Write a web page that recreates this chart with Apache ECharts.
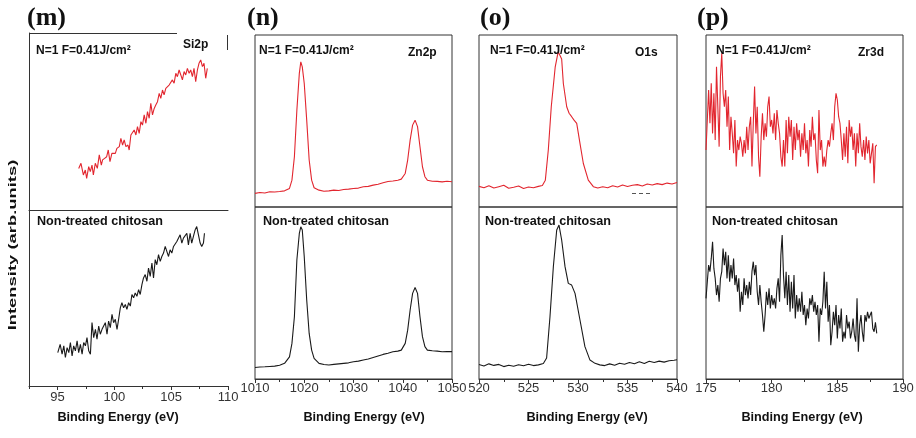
<!DOCTYPE html>
<html>
<head>
<meta charset="utf-8">
<script src="https://cdn.jsdelivr.net/npm/echarts@6/dist/echarts.min.js"></script>
<style>
html, body { margin: 0; padding: 0; background: #fff; }
#chart { width: 916px; height: 438px; }
</style>
</head>
<body>
<div id="chart"></div>
<script>
// XPS spectra, laser treated (N=1 F=0.41J/cm2) vs non-treated chitosan
// intensities are arbitrary: 0..100 inside each half panel

// (m) Si2p
const si2pTreated = [[96.87,23.5],[97.07,26.4],[97.28,19.8],[97.45,22.6],[97.57,17.9],[97.75,24.5],[97.89,21.7],[98.04,25.4],[98.16,19.8],[98.33,26.4],[98.51,23.5],[98.68,31.1],[98.86,25.4],[98.97,28.3],[99.15,29.2],[99.33,30.1],[99.47,33.9],[99.62,27.3],[99.79,32.0],[99.94,33.0],[100.09,32.0],[100.23,34.8],[100.44,35.8],[100.58,40.5],[100.73,36.7],[100.87,39.6],[101.02,35.8],[101.2,36.7],[101.31,33.9],[101.46,42.4],[101.61,43.3],[101.75,45.2],[101.9,42.4],[102.04,47.1],[102.19,43.3],[102.34,49.9],[102.48,48.0],[102.63,53.7],[102.78,49.0],[102.92,55.6],[103.07,51.8],[103.21,60.3],[103.36,53.7],[103.51,57.4],[103.65,59.3],[103.8,61.2],[103.95,65.9],[104.09,63.1],[104.24,67.8],[104.38,65.0],[104.53,68.7],[104.68,67.8],[104.82,70.6],[104.97,69.7],[105.11,73.5],[105.26,71.6],[105.41,77.2],[105.55,75.3],[105.7,79.1],[105.85,76.3],[105.99,73.5],[106.14,78.2],[106.28,76.3],[106.43,80.0],[106.58,77.2],[106.72,79.1],[106.87,75.3],[107.01,80.0],[107.16,72.5],[107.31,79.1],[107.45,82.9],[107.6,84.8],[107.75,81.0],[107.89,82.9],[108.04,74.4],[108.18,80.0]];
const si2pRaw = [[95.03,19.0],[95.24,23.7],[95.41,18.1],[95.56,22.8],[95.7,16.2],[95.85,21.8],[96.0,19.0],[96.14,24.7],[96.29,17.1],[96.43,22.8],[96.58,20.0],[96.73,25.6],[96.87,19.0],[97.02,23.7],[97.17,18.1],[97.31,24.7],[97.46,22.8],[97.6,27.5],[97.75,20.0],[97.9,18.1],[98.04,36.0],[98.19,27.5],[98.34,32.2],[98.48,26.6],[98.63,34.1],[98.77,29.4],[98.92,32.2],[99.07,31.3],[99.21,36.0],[99.36,29.4],[99.5,36.9],[99.65,33.2],[99.8,40.7],[99.94,36.0],[100.09,37.9],[100.24,32.2],[100.38,37.9],[100.53,44.4],[100.67,47.3],[100.82,44.4],[100.97,46.3],[101.11,43.5],[101.26,47.3],[101.41,45.4],[101.55,52.0],[101.7,50.1],[101.84,52.9],[101.99,51.0],[102.14,54.8],[102.28,52.0],[102.43,57.6],[102.57,61.4],[102.72,63.3],[102.87,59.5],[103.01,67.0],[103.16,62.3],[103.31,69.9],[103.45,61.4],[103.6,71.8],[103.74,68.9],[103.89,74.6],[104.04,70.8],[104.18,73.6],[104.33,75.5],[104.48,79.3],[104.62,76.5],[104.77,73.6],[104.91,77.4],[105.06,75.5],[105.21,79.3],[105.35,78.3],[105.5,82.1],[105.65,81.2],[105.79,85.9],[105.94,81.2],[106.08,84.0],[106.23,83.1],[106.38,86.8],[106.52,80.2],[106.67,86.8],[106.81,81.2],[106.96,85.0],[107.11,88.7],[107.25,90.6],[107.4,85.9],[107.55,81.2],[107.69,79.3],[107.84,81.2],[107.93,86.8]];

// (n) Zn2p
const zn2pTreated = [[1010,7.9],[1011,8.4],[1012,8.1],[1013,8.9],[1014,8.7],[1015,9.0],[1016,9.4],[1017,10.8],[1017.5,15.6],[1018,29.2],[1018.5,56.3],[1019,77.7],[1019.3,84.4],[1019.6,81.5],[1020,71.8],[1020.5,50.5],[1021,27.3],[1021.5,15.6],[1022,11.2],[1023,9.8],[1024,9.2],[1025,9.4],[1026,9.8],[1027,9.6],[1028,10.2],[1029,10.4],[1030,10.8],[1031,11.0],[1032,11.8],[1033,12.0],[1034,12.7],[1035,13.2],[1036,14.1],[1037,14.8],[1038,15.1],[1039,15.6],[1039.7,16.2],[1040.5,19.5],[1041,27.3],[1041.5,38.9],[1042,47.6],[1042.5,50.5],[1043,46.7],[1043.5,35.0],[1044,23.4],[1044.5,17.6],[1045,15.6],[1046,15.0],[1047,14.9],[1048,14.6],[1049,15.0],[1050,14.7]];
const zn2pRaw = [[1010,6.7],[1011,7.0],[1012,7.1],[1013,7.3],[1014,7.5],[1015,8.0],[1016,9.1],[1017,12.9],[1017.5,20.7],[1018,36.2],[1018.5,69.2],[1019,84.6],[1019.3,88.5],[1019.6,86.6],[1020,71.1],[1020.5,45.9],[1021,26.5],[1021.5,16.8],[1022,12.0],[1023,9.1],[1024,8.4],[1025,8.1],[1026,8.5],[1027,8.8],[1028,9.1],[1029,9.4],[1030,10.0],[1031,10.4],[1032,11.0],[1033,11.6],[1034,12.5],[1035,13.4],[1036,14.3],[1037,15.0],[1038,15.8],[1039,16.2],[1039.7,16.8],[1040.5,20.7],[1041,28.4],[1041.5,40.1],[1042,49.8],[1042.5,53.2],[1043,49.8],[1043.5,36.2],[1044,24.6],[1044.5,18.8],[1045,16.8],[1046,16.4],[1047,16.2],[1048,15.8],[1049,16.0],[1050,15.9]];

// (o) O1s
const o1sTreated = [[520.0,12.0],[520.5,11.2],[521.0,12.4],[521.5,11.0],[522.0,11.8],[522.5,12.6],[523.0,10.9],[523.5,11.5],[524.0,12.2],[524.5,10.8],[525.0,11.6],[525.5,11.2],[526.0,12.0],[526.4,12.5],[526.7,15.6],[527.0,33.1],[527.3,58.3],[527.7,81.5],[528.0,90.3],[528.18,91.2],[528.35,86.0],[528.52,71.8],[528.86,58.3],[529.1,54.5],[529.36,52.5],[529.6,50.5],[529.87,48.6],[530.2,37.0],[530.54,25.3],[531.04,15.6],[531.55,11.8],[532.0,11.0],[532.5,11.8],[533.0,11.2],[533.5,12.4],[534.0,11.6],[534.5,12.8],[535.0,11.9],[535.5,12.6],[536.0,13.0],[536.5,12.2],[537.0,13.4],[537.5,12.8],[538.0,13.6],[538.5,13.0],[539.0,13.9],[539.5,13.4],[540.0,14.3]];
const o1sRaw = [[520.0,8.4],[520.5,7.6],[521.0,8.8],[521.5,7.9],[522.0,8.5],[522.5,7.2],[523.0,8.0],[523.5,7.4],[524.0,8.3],[524.5,7.7],[525.0,8.6],[525.5,7.8],[526.0,8.2],[526.5,9.0],[526.83,12.2],[527.17,36.2],[527.51,65.3],[527.85,86.6],[528.08,89.5],[528.35,80.8],[528.69,65.3],[529.02,55.6],[529.36,54.6],[529.7,49.8],[530.2,34.3],[530.7,18.8],[531.21,11.0],[531.72,9.1],[532.2,8.2],[532.7,7.8],[533.2,8.8],[533.7,8.0],[534.2,9.2],[534.7,8.6],[535.2,9.6],[535.7,8.9],[536.2,10.0],[536.7,9.0],[537.2,10.3],[537.7,9.6],[538.2,10.4],[538.7,9.8],[539.2,10.6],[539.7,10.9],[540.0,11.2]];

// (p) Zr3d, both spectra on the same energy grid
const zr3dEnergy = [175.0,175.1,175.2,175.3,175.4,175.5,175.6,175.7,175.8,175.9,
  176.0,176.1,176.2,176.3,176.4,176.5,176.6,176.7,176.8,176.9,
  177.0,177.1,177.2,177.3,177.4,177.5,177.6,177.7,177.8,177.9,
  178.0,178.1,178.2,178.3,178.4,178.5,178.6,178.7,178.8,178.9,
  179.0,179.1,179.2,179.3,179.4,179.5,179.6,179.7,179.8,179.9,
  180.0,180.1,180.2,180.3,180.4,180.5,180.6,180.7,180.8,180.9,
  181.0,181.1,181.2,181.3,181.4,181.5,181.6,181.7,181.8,181.9,
  182.0,182.1,182.2,182.3,182.4,182.5,182.6,182.7,182.8,182.9,
  183.0,183.1,183.2,183.3,183.4,183.5,183.6,183.7,183.8,183.9,
  184.0,184.1,184.2,184.3,184.4,184.5,184.6,184.7,184.8,184.9,
  185.0,185.1,185.2,185.3,185.4,185.5,185.6,185.7,185.8,185.9,
  186.0,186.1,186.2,186.3,186.4,186.5,186.6,186.7,186.8,186.9,
  187.0,187.1,187.2,187.3,187.4,187.5,187.6,187.7,187.8,187.9,
  188.0];
const zr3dTreated = [33.1,50.6,68.0,48.7,71.9,42.8,66.1,38.9,81.6,58.3,
  35.1,75.8,89.3,66.1,58.3,68.0,46.7,64.2,33.1,52.5,
  42.8,31.2,50.6,23.5,38.9,33.1,40.9,37.0,29.3,38.9,
  31.2,46.7,33.1,46.7,52.5,23.5,48.7,70.0,42.8,58.3,
  29.3,17.6,40.9,54.5,38.9,48.7,40.9,58.3,64.2,46.7,
  50.6,42.8,54.5,38.9,56.4,48.7,42.8,29.3,23.5,38.9,
  23.5,50.6,31.2,52.5,40.9,50.6,27.3,46.7,33.1,48.7,
  38.9,44.8,29.3,42.8,33.1,48.7,31.2,38.9,23.5,44.8,
  35.1,52.5,38.9,42.8,27.3,19.6,56.4,33.1,38.9,23.5,
  29.3,23.5,33.1,38.9,35.1,42.8,48.7,38.9,58.3,66.1,
  62.2,52.5,48.7,38.9,27.3,42.8,29.3,46.7,25.4,50.6,
  40.9,46.7,33.1,42.8,23.5,42.8,31.2,48.7,35.1,29.3,
  38.9,27.3,40.9,31.2,38.9,25.4,31.2,37.0,13.8,35.1,
  36.1];
const zr3dRaw = [46.9,56.5,66.2,62.4,70.1,79.8,64.3,58.5,48.8,54.6,
  44.9,58.5,62.4,75.9,66.2,74.0,58.5,72.0,56.5,66.2,
  58.5,70.1,54.6,60.4,50.7,58.5,39.1,50.7,43.0,58.5,
  48.8,54.6,46.9,56.5,48.8,62.4,68.2,60.4,66.2,50.7,
  43.0,54.6,44.9,37.2,27.5,37.2,50.7,43.0,52.7,41.0,
  48.8,43.0,46.9,41.0,52.7,58.5,44.9,72.0,83.7,60.4,
  46.9,62.4,43.0,60.4,39.1,56.5,41.0,60.4,35.2,48.8,
  39.1,46.9,39.1,50.7,37.2,43.0,31.3,41.0,35.2,46.9,
  43.0,48.8,39.1,44.9,37.2,43.0,21.7,41.0,37.2,44.9,
  62.4,41.0,56.5,33.3,43.0,19.7,27.5,39.1,31.3,43.0,
  23.6,37.2,29.4,41.0,21.7,27.5,23.6,37.2,29.4,33.3,
  23.6,27.5,35.2,25.5,21.7,46.9,15.8,31.3,37.2,27.5,
  21.7,37.2,33.3,39.1,35.2,37.2,39.1,29.4,27.5,33.0,
  26.5];

// tick labels
const siTicks = [95, 100, 105, 110];
const siMinor = [92.5, 97.5, 102.5, 107.5];
const znTicks = [1010, 1020, 1030, 1040, 1050];
const znMinor = [1015, 1025, 1035, 1045];
const oTicks = [520, 525, 530, 535, 540];
const oMinor = [522.5, 527.5, 532.5, 537.5];
const zrTicks = [175, 180, 185, 190];
const zrMinor = [177.5, 182.5, 187.5];

const panelNames = ['(m)', '(n)', '(o)', '(p)'];
const coreLevels = ['Si2p', 'Zn2p', 'O1s', 'Zr3d'];
const treatedLabel = 'N=1 F=0.41J/cm\u00b2';
const rawLabel = 'Non-treated chitosan';
const xTitle = 'Binding Energy (eV)';
const yTitle = 'Intensity (arb.units)';

const zr3dTreatedPts = zr3dEnergy.map((e, i) => [e, zr3dTreated[i]]);
const zr3dRawPts = zr3dEnergy.map((e, i) => [e, zr3dRaw[i]]);

const RED = '#e2262f';
const BLACK = '#1a1a1a';
const FRAME = '#333';
const SANS = '"Liberation Sans", Arial, sans-serif';

// layout of each panel (pixels)
const panels = [
  { left: 29, width: 199, top: 33, mid: 210, bottom: 386, min: 92.5, max: 110, ticks: siTicks, minor: siMinor, up: si2pTreated, down: si2pRaw, frame: false, margin: 5,
    nameX: 27, levelX: 183, levelY: 45, innerX: 36, rawX: 37, titleX: 118 },
  { left: 255, width: 197, top: 35, mid: 207, bottom: 379, min: 1010, max: 1050, ticks: znTicks, minor: znMinor, up: zn2pTreated, down: zn2pRaw, frame: true, margin: 3,
    nameX: 247, levelX: 408, levelY: 53, innerX: 259, rawX: 263, titleX: 364 },
  { left: 479, width: 198, top: 35, mid: 207, bottom: 379, min: 520, max: 540, ticks: oTicks, minor: oMinor, up: o1sTreated, down: o1sRaw, frame: true, margin: 3,
    nameX: 480, levelX: 635, levelY: 53, innerX: 490, rawX: 485, titleX: 587 },
  { left: 706, width: 197, top: 35, mid: 207, bottom: 379, min: 175, max: 190, ticks: zrTicks, minor: zrMinor, up: zr3dTreatedPts, down: zr3dRawPts, frame: true, margin: 3,
    nameX: 697, levelX: 858, levelY: 53, innerX: 716, rawX: 712, titleX: 802 }
];

const grids = [];
const xAxes = [];
const minorAxes = [];
const yAxes = [];
const series = [];
const graphics = [];

panels.forEach((p, k) => {
  const gTop = k * 2;
  const gBot = k * 2 + 1;
  const gridBase = { left: p.left, width: p.width, show: p.frame, borderColor: FRAME, borderWidth: 1, outerBoundsMode: 'none' };
  grids.push(Object.assign({ top: p.top, height: p.mid - p.top }, gridBase));
  grids.push(Object.assign({ top: p.mid, height: p.bottom - p.mid }, gridBase));

  // top half: only the divider line (panel m has no frame)
  xAxes.push({
    type: 'value', gridIndex: gTop, min: p.min, max: p.max,
    axisLine: { show: !p.frame, onZero: false, lineStyle: { color: FRAME, width: 1 } },
    axisTick: { show: false }, axisLabel: { show: false }, splitLine: { show: false }
  });
  xAxes.push({
    type: 'value', gridIndex: gBot, min: p.min, max: p.max,
    axisLine: { show: true, onZero: false, lineStyle: { color: FRAME, width: 1 } },
    axisTick: { show: true, length: 4, customValues: p.ticks, lineStyle: { color: FRAME } },
    axisLabel: { customValues: p.ticks, margin: p.margin, fontSize: 13, color: '#333', fontFamily: SANS,
      formatter: v => String(v) },
    splitLine: { show: false }
  });
  // minor ticks point inwards
  minorAxes.push({
    type: 'value', gridIndex: gBot, min: p.min, max: p.max,
    axisLine: { show: false },
    axisTick: { show: true, inside: true, length: 3, customValues: p.minor, lineStyle: { color: FRAME } },
    axisLabel: { show: false }, splitLine: { show: false }
  });
  [gTop, gBot].forEach(g => {
    yAxes.push({
      type: 'value', gridIndex: g, min: 0, max: 100,
      axisLine: { show: !p.frame, lineStyle: { color: FRAME, width: 1 } },
      axisTick: { show: false }, axisLabel: { show: false }, splitLine: { show: false }
    });
  });

  series.push({ type: 'line', xAxisIndex: gTop, yAxisIndex: gTop, data: p.up, showSymbol: false, symbol: 'none',
    lineStyle: { color: RED, width: 1.1 }, animation: false, z: 3 });
  series.push({ type: 'line', xAxisIndex: gBot, yAxisIndex: gBot, data: p.down, showSymbol: false, symbol: 'none',
    lineStyle: { color: BLACK, width: 1.1 }, animation: false, z: 3 });

  graphics.push({ type: 'text', x: p.nameX, y: 18, style: { text: panelNames[k], font: 'bold 26px "Liberation Serif", "Times New Roman", serif', fill: '#111', textVerticalAlign: 'middle', verticalAlign: 'middle' } });
  graphics.push({ type: 'text', x: p.innerX, y: 51, z: 10, style: { text: treatedLabel, font: 'bold 12px ' + SANS, fill: '#111', textVerticalAlign: 'middle', verticalAlign: 'middle' } });
  graphics.push({ type: 'text', x: p.levelX, y: p.levelY, z: 10, style: { text: coreLevels[k], font: 'bold 12px ' + SANS, fill: '#111', textVerticalAlign: 'middle', verticalAlign: 'middle' } });
  graphics.push({ type: 'text', x: p.rawX, y: 222, z: 10, style: { text: rawLabel, font: 'bold 12.6px ' + SANS, fill: '#111', textVerticalAlign: 'middle', verticalAlign: 'middle' } });
  graphics.push({ type: 'text', x: p.titleX, y: 417, style: { text: xTitle, font: 'bold 12.7px ' + SANS, fill: '#111', textAlign: 'center', align: 'center', textVerticalAlign: 'middle', verticalAlign: 'middle' } });
});

// frame pieces of panel (m) and a stray mark in (o)
graphics.push({ type: 'line', shape: { x1: 29, y1: 33.5, x2: 177, y2: 33.5 }, style: { stroke: FRAME, lineWidth: 1 } });
graphics.push({ type: 'line', shape: { x1: 227.5, y1: 35, x2: 227.5, y2: 50 }, style: { stroke: FRAME, lineWidth: 1 } });
graphics.push({ type: 'line', shape: { x1: 632, y1: 193.5, x2: 653, y2: 193.5 }, style: { stroke: '#555', lineWidth: 1, lineDash: [4, 3] } });
graphics.push({ type: 'text', x: 13, y: 245, rotation: Math.PI / 2, scaleX: 1.6,
  style: { text: yTitle, font: 'bold 11.5px ' + SANS, fill: '#111', textAlign: 'center', align: 'center', textVerticalAlign: 'middle', verticalAlign: 'middle' } });

const chart = echarts.init(document.getElementById('chart'), null, { renderer: 'canvas' });
chart.setOption({
  backgroundColor: '#fff',
  animation: false,
  grid: grids,
  xAxis: xAxes.concat(minorAxes),
  yAxis: yAxes,
  series: series,
  graphic: { elements: graphics }
});
</script>
</body>
</html>
